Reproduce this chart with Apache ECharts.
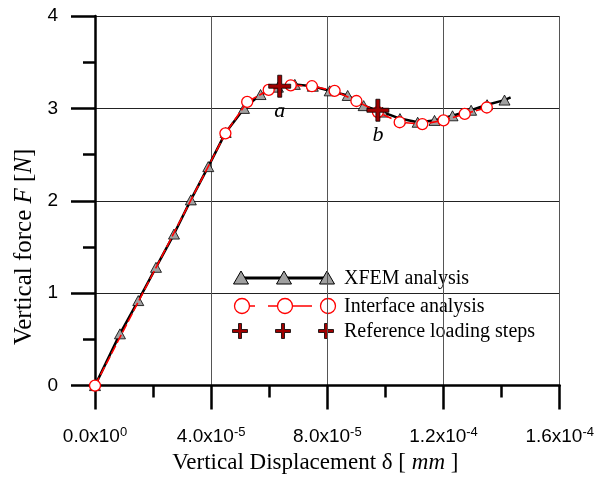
<!DOCTYPE html>
<html>
<head>
<meta charset="utf-8">
<script src="https://cdn.jsdelivr.net/npm/echarts@6/dist/echarts.min.js"></script>
<style>
  html, body { margin: 0; padding: 0; background: #fff; }
  #chart { width: 597px; height: 479px; }
</style>
</head>
<body>
<div id="chart"></div>
<script>
// displacement in units of 1e-5 mm, force in N
const xfemDisp  = [0, 0.86, 1.49, 2.10, 2.72, 3.30, 3.90, 4.50, 5.13, 5.70, 6.30, 6.88, 7.50, 8.08, 8.70, 9.25, 9.90, 10.50, 11.11, 11.69, 12.31, 12.95, 13.50, 14.10, 14.31];
const xfemForce = [0, 0.56, 0.92, 1.28, 1.64, 2.01, 2.37, 2.74, 3.00, 3.15, 3.23, 3.26, 3.24, 3.19, 3.14, 3.03, 2.96, 2.89, 2.85, 2.87, 2.92, 2.98, 3.04, 3.09, 3.12];

const ifaceDisp  = [0, 4.49, 5.24, 5.98, 6.74, 7.47, 8.25, 9.00, 9.74, 10.49, 11.27, 12.00, 12.73, 13.49];
const ifaceForce = [0, 2.73, 3.07, 3.20, 3.25, 3.24, 3.19, 3.08, 2.96, 2.85, 2.83, 2.87, 2.94, 3.01];

const refDisp  = [6.36, 9.74];
const refForce = [3.24, 2.98];
const refNames = ['a', 'b'];

// x tick labels: mantissa x 10^exp
const xTickMant = ['0.0', '4.0', '8.0', '1.2', '1.6'];
const xTickExp  = ['0', '-5', '-5', '-4', '-4'];
const yTicks = [0, 1, 2, 3, 4];

const legendNames = ['XFEM analysis', 'Interface analysis', 'Reference loading steps'];

const serif = 'Liberation Serif';
const sans = 'Liberation Sans';
const crossPath = 'path://M9,0H13V9H22V13H13V22H9V13H0V9H9Z';

const xfemData = xfemDisp.map((x, i) => {
  const item = { value: [x, xfemForce[i]] };
  if (i === xfemDisp.length - 1) item.symbol = 'none';
  return item;
});
const ifaceData = ifaceDisp.map((x, i) => [x, ifaceForce[i]]);
const refData = refDisp.map((x, i) => ({ name: refNames[i], value: [x, refForce[i]] }));

// legend drawn by hand: three markers per row like the original plot
function plus(cx, cy, h, t) {
  return [[cx - t, cy - h], [cx + t, cy - h], [cx + t, cy - t], [cx + h, cy - t], [cx + h, cy + t], [cx + t, cy + t],
          [cx + t, cy + h], [cx - t, cy + h], [cx - t, cy + t], [cx - h, cy + t], [cx - h, cy - t], [cx - t, cy - t]];
}
const lgX = [241, 284, 327];
const lgY = [278, 306, 331];
const legendEls = [
  { type: 'rect', shape: { x: 222, y: 262, width: 325, height: 89 }, style: { fill: '#fff' } },
  { type: 'line', shape: { x1: lgX[0], y1: lgY[0], x2: lgX[2], y2: lgY[0] }, style: { stroke: '#000', lineWidth: 3 } },
  { type: 'line', shape: { x1: lgX[0] + 2, y1: lgY[1], x2: lgX[2] + 1, y2: lgY[1] },
    style: { stroke: '#ff0000', lineWidth: 1.5, lineDash: [12, 13, 44, 13] } }
];
lgX.forEach(cx => {
  legendEls.push({ type: 'polygon', shape: { points: [[cx - 7.5, lgY[0] + 6], [cx + 7.5, lgY[0] + 6], [cx, lgY[0] - 7]] },
    style: { fill: '#a0a0a0', stroke: '#000', lineWidth: 1 } });
  legendEls.push({ type: 'circle', shape: { cx: cx + 1, cy: lgY[1], r: 7.5 },
    style: { fill: '#fff', stroke: '#ff0000', lineWidth: 1.3 } });
  legendEls.push({ type: 'polygon', shape: { points: plus(cx - 1, lgY[2], 7.5, 1.5) },
    style: { fill: '#a00000', stroke: '#000', lineWidth: 0.8 } });
});
legendNames.forEach((name, i) => {
  legendEls.push({ type: 'text', x: 344, y: lgY[i] + 1,
    style: { text: name, fill: '#000', font: '20px "' + serif + '"', verticalAlign: 'middle' } });
});

const chart = echarts.init(document.getElementById('chart'));
chart.setOption({
  animation: false,
  backgroundColor: '#fff',
  grid: { left: 95, right: 37, top: 16, bottom: 90 },
  xAxis: {
    type: 'value',
    min: 0,
    max: 16,
    interval: 4,
    name: '{n|Vertical Displacement δ [ }{i|mm}{n| ]}',
    nameLocation: 'middle',
    nameGap: 61,
    nameTextStyle: {
      padding: [0, 24, 0, 0],
      rich: {
        n: { fontFamily: serif, fontSize: 23, color: '#000' },
        i: { fontFamily: serif, fontSize: 23, fontStyle: 'italic', color: '#000' }
      }
    },
    axisLine: { onZero: false, lineStyle: { color: '#000', width: 2.5 } },
    axisTick: { inside: false, length: 24, lineStyle: { color: '#000', width: 2.5 } },
    minorTick: { show: true, splitNumber: 2, length: 12, lineStyle: { color: '#000', width: 2.5 } },
    splitLine: { show: true, lineStyle: { color: '#555', width: 1 } },
    axisLabel: {
      margin: 40,
      formatter: v => {
        const k = Math.round(v / 4);
        return '{m|' + xTickMant[k] + 'x10}{e|' + xTickExp[k] + '}';
      },
      rich: {
        m: { fontFamily: sans, fontSize: 19, color: '#000', lineHeight: 22 },
        e: { fontFamily: sans, fontSize: 13, color: '#000', lineHeight: 14, verticalAlign: 'top' }
      }
    }
  },
  yAxis: {
    type: 'value',
    min: yTicks[0],
    max: yTicks[yTicks.length - 1],
    interval: 1,
    name: '{n|Vertical force }{i|F}{n| [}{i|N}{n|]}',
    nameLocation: 'middle',
    nameGap: 58,
    nameTextStyle: {
      padding: [0, 92, 0, 0],
      rich: {
        n: { fontFamily: serif, fontSize: 25, color: '#000' },
        i: { fontFamily: serif, fontSize: 25, fontStyle: 'italic', color: '#000' }
      }
    },
    axisLine: { onZero: false, lineStyle: { color: '#000', width: 2.5 } },
    axisTick: { inside: false, length: 24, lineStyle: { color: '#000', width: 2.5 } },
    minorTick: { show: true, splitNumber: 2, length: 12, lineStyle: { color: '#000', width: 2.5 } },
    splitLine: { show: true, lineStyle: { color: '#222', width: 1 } },
    axisLabel: { margin: 37, fontFamily: sans, fontSize: 19, color: '#000' }
  },
  series: [
    {
      name: legendNames[0],
      type: 'line',
      data: xfemData,
      z: 2,
      symbol: 'triangle',
      symbolSize: [11, 10],
      lineStyle: { color: '#000', width: 2.5 },
      itemStyle: { color: '#a0a0a0', borderColor: '#000', borderWidth: 0.8 }
    },
    {
      name: legendNames[1],
      type: 'line',
      data: ifaceData,
      z: 3,
      symbol: 'circle',
      symbolSize: 11,
      lineStyle: { color: '#ff0000', width: 1.6, type: [9, 3] },
      itemStyle: { color: '#fff', borderColor: '#ff0000', borderWidth: 1.3 }
    },
    {
      name: legendNames[2],
      type: 'scatter',
      data: refData,
      z: 4,
      symbol: crossPath,
      symbolSize: 22,
      itemStyle: { color: '#a00000', borderColor: '#000', borderWidth: 0.8, opacity: 1 },
      label: {
        show: true,
        position: 'bottom',
        distance: 3,
        formatter: p => p.name,
        fontFamily: serif,
        fontStyle: 'italic',
        fontSize: 22,
        color: '#000'
      }
    }
  ],
  graphic: [{ type: 'group', z: 100, children: legendEls }]
});
</script>
</body>
</html>
